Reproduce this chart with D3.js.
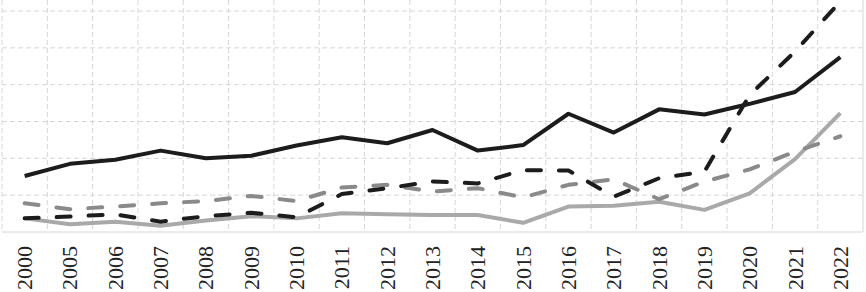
<!DOCTYPE html>
<html>
<head>
<meta charset="utf-8">
<script src="https://cdn.jsdelivr.net/npm/d3@7"></script>
<style>
  html, body { margin: 0; padding: 0; background: #fff; overflow: hidden; }
  svg text.yr { font-family: 'Liberation Serif', 'Times New Roman', 'DejaVu Serif', serif; }
</style>
</head>
<body>
<svg id="chart" width="866" height="292"></svg>
<script>
(function() {

var years = ['2000', '2005', '2006', '2007', '2008', '2009', '2010', '2011', '2012', '2013',
             '2014', '2015', '2016', '2017', '2018', '2019', '2020', '2021', '2022'];

var solid_black = [1.52, 1.85, 1.96, 2.21, 2.00, 2.07, 2.35, 2.57, 2.41, 2.77,
                   2.21, 2.36, 3.21, 2.70, 3.33, 3.19, 3.48, 3.80, 4.75];
var dashed_black = [0.37, 0.42, 0.48, 0.28, 0.43, 0.52, 0.40, 1.03, 1.19, 1.37,
                    1.32, 1.68, 1.67, 0.96, 1.46, 1.64, 3.72, 4.90, 6.26];
var dashed_gray = [0.78, 0.62, 0.69, 0.78, 0.84, 0.98, 0.84, 1.21, 1.28, 1.10,
                   1.19, 0.94, 1.28, 1.43, 0.89, 1.37, 1.70, 2.18, 2.60];
var solid_light = [0.37, 0.21, 0.28, 0.17, 0.31, 0.43, 0.37, 0.51, 0.48, 0.46,
                   0.46, 0.25, 0.69, 0.71, 0.82, 0.60, 1.05, 1.98, 3.23];

var grid_values = [1, 2, 3, 4, 5, 6];

var svg = d3.select('#chart')
var left = 2, right = 863, bottom = 232, top = 11

var x = d3.scaleBand().domain(years).range([left, right])
var y = d3.scaleLinear().domain([0, 6]).range([bottom, top])

// gridlines
var grid = svg.append('g')
grid.selectAll('line.h')
    .data(grid_values)
    .join('line')
    .attr('class', 'h')
    .attr('x1', left).attr('x2', right)
    .attr('y1', d => y(d)).attr('y2', d => y(d))
    .attr('stroke', '#d6d6d6')
    .attr('stroke-width', 1)
    .attr('stroke-dasharray', '5,3')

grid.selectAll('line.v')
    .data(years)
    .join('line')
    .attr('class', 'v')
    .attr('x1', d => x(d)).attr('x2', d => x(d))
    .attr('y1', 0).attr('y2', bottom)
    .attr('stroke', '#d6d6d6')
    .attr('stroke-width', 1)
    .attr('stroke-dasharray', '5,3')

// right border and baseline
svg.append('line')
    .attr('x1', right).attr('x2', right)
    .attr('y1', 0).attr('y2', bottom)
    .attr('stroke', '#d6d6d6')
svg.append('line')
    .attr('x1', left).attr('x2', right)
    .attr('y1', bottom).attr('y2', bottom)
    .attr('stroke', '#d6d6d6')

// x labels, rotated
svg.append('g')
    .selectAll('text')
    .data(years)
    .join('text')
    .attr('class', 'yr')
    .attr('transform', d => 'translate(' + (x(d) + x.bandwidth() / 2) + ',' + (bottom + 14) + ') rotate(-90)')
    .attr('dy', '0.34em')
    .attr('text-anchor', 'end')
    .style('font-size', '22px')
    .attr('fill', '#222')
    .text(d => d)

var line = d3.line()
    .x((d, i) => x(years[i]) + x.bandwidth() / 2)
    .y(d => y(d))

var series = [
    {values: solid_light, color: '#a9a9a9', dash: null},
    {values: dashed_gray, color: '#8a8a8a', dash: '14,18'},
    {values: dashed_black, color: '#1c1c1c', dash: '14,18'},
    {values: solid_black, color: '#1c1c1c', dash: null}
]

svg.append('g')
    .selectAll('path')
    .data(series)
    .join('path')
    .attr('d', d => line(d.values))
    .attr('fill', 'none')
    .attr('stroke', d => d.color)
    .attr('stroke-width', 4)
    .attr('stroke-dasharray', d => d.dash)
    .attr('stroke-linecap', d => d.dash ? 'round' : 'butt')
    .attr('stroke-linejoin', 'round')

})()
</script>
</body>
</html>
